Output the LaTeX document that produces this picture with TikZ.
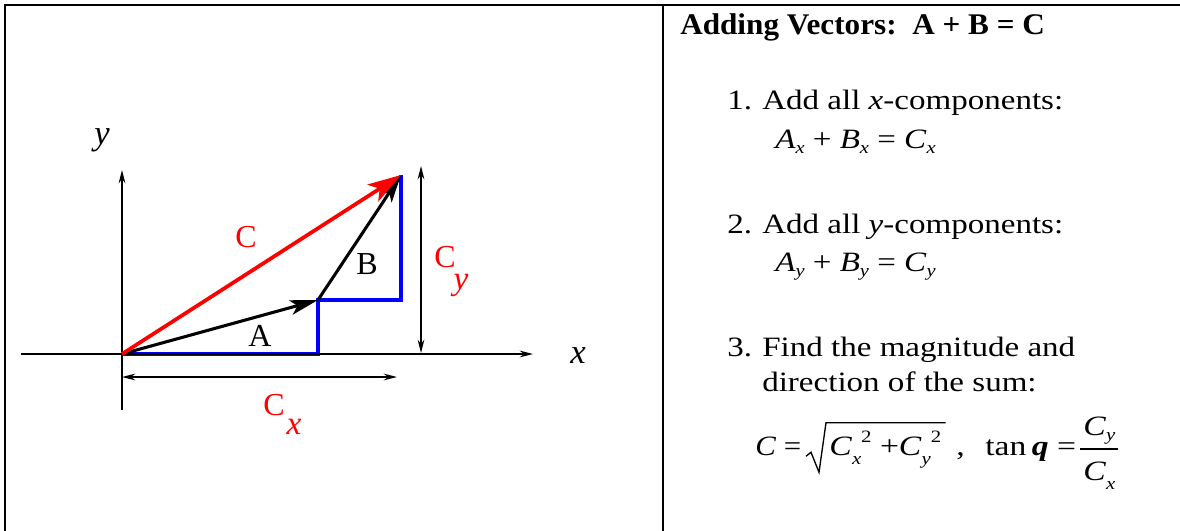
\documentclass[tikz,border=0pt]{standalone}
\usepackage{fontspec}
\setmainfont{Liberation Serif}
\usetikzlibrary{arrows.meta,calc}
\newcommand{\sbx}[1]{\raisebox{-0.45ex}{\fontsize{13}{13}\selectfont\itshape #1}}
\newcommand{\sbxl}[1]{\raisebox{-0.7ex}{\fontsize{13}{13}\selectfont\itshape #1}}
\newcommand{\spx}[1]{\raisebox{0.95ex}{\fontsize{13}{13}\selectfont\upshape #1}}
\newcommand{\hstr}[1]{\scalebox{1.18}[1]{#1}}
\begin{document}
\begin{tikzpicture}[x=0.75pt,y=-0.75pt]
\tikzset{
  frame/.style={line width=2.1pt},
  axis/.style={line width=1.1pt,-{Stealth[length=10pt,width=5pt]}},
  vec/.style={line width=2.3pt,-{Stealth[length=21pt,width=11pt,inset=5pt]}},
  redvec/.style={red,line width=2.8pt,-{Stealth[length=25pt,width=15pt,inset=6pt]}},
  comp/.style={blue,line width=2.4pt},
  dim/.style={line width=1.1pt,{Stealth[length=10pt,width=5pt]}-{Stealth[length=10pt,width=5pt]}},
  lab/.style={font=\fontsize{24}{24}\selectfont},
  sublab/.style={font=\fontsize{25}{25}\selectfont\itshape},
  axlab/.style={font=\fontsize{26}{26}\selectfont\itshape},
  body/.style={anchor=base west,inner sep=0pt,font=\fontsize{21}{21}\selectfont},
  title/.style={anchor=base west,inner sep=0pt,font=\fontsize{22.5}{22.5}\selectfont\bfseries},
  radical/.style={line width=1pt,line join=miter},
  fracbar/.style={line width=1pt},
}
\path[use as bounding box] (0,0) rectangle (1180,531);
% frame
\draw[frame] (5,531) -- (5,5) -- (1180,5);
\draw[frame] (663,5) -- (663,531);
% coordinates
\coordinate (O) at (122,354);
\coordinate (Ae) at (318,300);
\coordinate (Ce) at (401,175);
\coordinate (Ac) at (318,354);
\coordinate (Bc) at (401,300);
\coordinate (xl) at (21,354);
\coordinate (xr) at (533,354);
\coordinate (yt) at (122,170);
\coordinate (yb) at (122,410);
\coordinate (cyt) at (421,166);
\coordinate (cyb) at (421,353);
\coordinate (cxl) at (122,377);
\coordinate (cxr) at (397,377);
% components
\draw[comp] (O) -- (Ac) -- (Ae) -- (Bc) -- (Ce);
% axes
\draw[axis] (xl) -- (xr);
\draw[axis] (yb) -- (yt);
% dimension arrows
\draw[dim] (cyb) -- (cyt);
\draw[dim] (cxl) -- (cxr);
% vectors
\draw[vec] (O) -- (Ae);
\draw[vec] (Ae) -- (Ce);
\draw[redvec] (O) -- (Ce);
% labels
\node[lab,red] (lC) at (246,237) {C};
\node[lab] (lB) at (367,264) {B};
\node[lab] (lA) at (260,336) {A};
\node[lab,red] (lCy) at (445,257) {C};
\node[sublab,red] (lCys) at (461,285) {y};
\node[lab,red] (lCx) at (274,405) {C};
\node[sublab,red,inner sep=1pt] (lCxs) at (294,427) {x};
\node[axlab] (ly) at (102,140) {y};
\node[axlab] (lx) at (578,356) {x};
% right column
\node[title] (t) at (680,35) {\scalebox{1.04}[1]{Adding Vectors:\ \ A + B = C}};
\node[body] (n1) at (727,110) {\hstr{1.}};
\node[body] (s1) at (762,110) {\hstr{Add all \textit{x}-components:}};
\node[body] (e1) at (775,148) {\hstr{\textit{A}\sbx{x} + \textit{B}\sbx{x} = \textit{C}\sbx{x}}};
\node[body] (n2) at (727,233) {\hstr{2.}};
\node[body] (s2) at (762,233) {\hstr{Add all \textit{y}-components:}};
\node[body] (e2) at (775,271) {\hstr{\textit{A}\sbx{y} + \textit{B}\sbx{y} = \textit{C}\sbx{y}}};
\node[body] (n3) at (727,356) {\hstr{3.}};
\node[body] (s3a) at (762,356) {\hstr{Find the magnitude and}};
\node[body] (s3b) at (762,391) {\hstr{direction of the sum:}};
% formula
\node[body] (f1) at (755,455) {\scalebox{1.1}[1]{\textit{C} =}};
\node[body,text height=24pt,text depth=12.75pt] (f2) at (829,455)
  {\scalebox{1.2}[1]{\textit{C}\sbxl{x}\spx{2} +\textit{C}\sbxl{y}\spx{2}}};
\draw[radical] ($(f2.south west)+(-23,-16)$) -- ($(f2.south west)+(-18,-20)$)
  -- ($(f2.south west)+(-10,0)$) -- ($(f2.north west)+(-3,0)$) -- ($(f2.north east)+(4,0)$);
\node[body] (f3) at (956,455) {\scalebox{1.2}[1]{,}};
\node[body] (f4) at (985,455) {\scalebox{1.2}[1]{tan\,\textbf{\textit{q}} =}};
\node[body] (fn) at (1083,435) {\scalebox{1.2}[1]{\textit{C}\sbx{y}}};
\node[body] (fd) at (1083,480) {\scalebox{1.2}[1]{\textit{C}\sbxl{x}}};
\coordinate (fbl) at (1080,449);
\coordinate (fbr) at (1118,449);
\draw[fracbar] (fbl) -- (fbr);
\end{tikzpicture}
\end{document}
